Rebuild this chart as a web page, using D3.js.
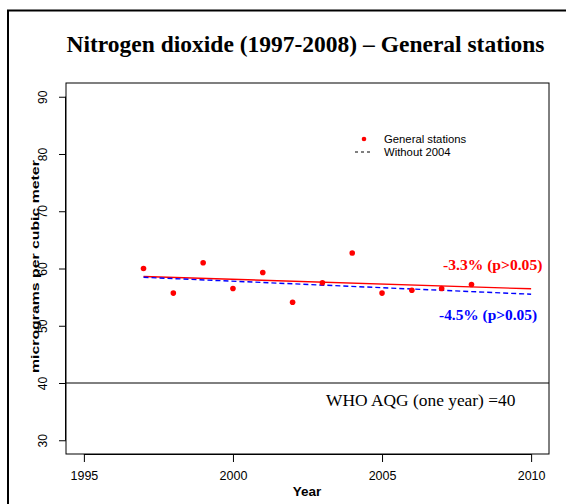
<!DOCTYPE html>
<html>
<head>
<meta charset="utf-8">
<script src="https://cdn.jsdelivr.net/npm/d3@7"></script>
<style>
  body { margin: 0; background: #fff; }
  svg { display: block; }
</style>
</head>
<body>
<div id="chart"></div>
<script>
"use strict";
// yearly means, NO2, general stations
const years = [1997, 1998, 1999, 2000, 2001, 2002, 2003, 2004, 2005, 2006, 2007, 2008];
const no2 = [60.0, 55.7, 61.0, 56.5, 59.3, 54.1, 57.5, 62.7, 55.7, 56.2, 56.5, 57.2];
const xTicks = [1995, 2000, 2005, 2010];
const yTicks = [30, 40, 50, 60, 70, 80, 90];
const whoLimit = 40;
const excludedYear = 2004;
const trendEnd = 2010;
const trendLabels = ['-3.3% (p>0.05)', '-4.5% (p>0.05)'];

const width = 566, height = 504;
const svg = d3.select('#chart').append('svg')
  .attr('width', width)
  .attr('height', height);

// outer frame (runs off the right/bottom edge)
svg.append('rect')
  .attr('x', 8).attr('y', 10.5)
  .attr('width', 620).attr('height', 620)
  .attr('fill', 'none').attr('stroke', '#000').attr('stroke-width', 2);

// R style: limits extended 4%
const x = d3.scaleLinear().domain([1994.4, 2010.6]).range([66, 549]);
const y = d3.scaleLinear().domain([27.6, 92.4]).range([454, 83]);

// least squares line
function fit(xs, ys) {
  const mx = d3.mean(xs), my = d3.mean(ys);
  let sxy = 0, sxx = 0;
  xs.forEach((v, i) => { sxy += (v - mx) * (ys[i] - my); sxx += (v - mx) * (v - mx); });
  const b = sxy / sxx;
  return t => my + b * (t - mx);
}

svg.append('text')
  .attr('x', 305.5).attr('y', 52)
  .attr('text-anchor', 'middle')
  .style('font-family', '"Liberation Serif", "Times New Roman", serif')
  .style('font-weight', 'bold')
  .style('font-size', '23.5px')
  .text('Nitrogen dioxide (1997-2008) \u2013 General stations');

// plot box
svg.append('rect')
  .attr('x', x.range()[0]).attr('y', y.range()[1])
  .attr('width', x.range()[1] - x.range()[0])
  .attr('height', y.range()[0] - y.range()[1])
  .attr('fill', 'none').attr('stroke', '#000').attr('stroke-width', 1);

// axes
const gx = svg.append('g')
  .attr('transform', `translate(0,${y.range()[0]})`)
  .call(d3.axisBottom(x).tickValues(xTicks).tickFormat(d3.format('d')).tickSize(8).tickPadding(9));
gx.select('.domain').attr('d', `M${x(xTicks[0])},0.5H${x(xTicks[xTicks.length - 1])}`);
gx.selectAll('text')
  .style('font-family', '"Liberation Sans", Arial, sans-serif')
  .style('font-size', '12.5px')
  .attr('fill', '#000');

const gy = svg.append('g')
  .attr('transform', `translate(${x.range()[0]},0)`)
  .call(d3.axisLeft(y).tickValues(yTicks).tickSize(7));
gy.select('.domain').attr('d', `M-0.5,${y(yTicks[0])}V${y(yTicks[yTicks.length - 1])}`);
gy.selectAll('text')
  .attr('transform', 'rotate(-90)')
  .attr('x', 0).attr('y', -19).attr('dy', 0)
  .attr('text-anchor', 'middle')
  .style('font-family', '"Liberation Sans", Arial, sans-serif')
  .style('font-size', '12px')
  .attr('fill', '#000');

svg.append('text')
  .attr('x', 307).attr('y', 496)
  .attr('text-anchor', 'middle')
  .style('font-family', '"Liberation Sans", Arial, sans-serif')
  .style('font-weight', 'bold')
  .style('font-size', '13.5px')
  .text('Year');

// y title: stretched along its length like the source image
const yTitle = svg.append('text')
  .attr('text-anchor', 'start')
  .style('font-family', '"Liberation Sans", Arial, sans-serif')
  .style('font-weight', 'bold')
  .style('font-size', '10.5px')
  .text('micrograms per cubic meter');
const titleLen = yTitle.node().getComputedTextLength();
const stretch = 213 / titleLen;
yTitle
  .attr('x', -titleLen / 2)
  .attr('transform', `translate(38.5,${(y.range()[0] + y.range()[1]) / 2 - 2}) rotate(-90) scale(${stretch},1)`);

// WHO guideline
svg.append('line')
  .attr('x1', x.range()[0]).attr('x2', x.range()[1])
  .attr('y1', y(whoLimit)).attr('y2', y(whoLimit))
  .attr('stroke', '#000').attr('stroke-width', 1);
svg.append('text')
  .attr('x', 326).attr('y', y(whoLimit) + 23)
  .style('font-family', '"Liberation Serif", "Times New Roman", serif')
  .style('font-size', '17.4px')
  .text(`WHO AQG (one year) =${whoLimit}`);

// trend lines
const allFit = fit(years, no2);
const keep = years.map((v, i) => i).filter(i => years[i] !== excludedYear);
const subFit = fit(keep.map(i => years[i]), keep.map(i => no2[i]));
const line = d3.line().x(d => x(d[0])).y(d => y(d[1]));

svg.append('path')
  .attr('d', line([[years[0], allFit(years[0])], [trendEnd, allFit(trendEnd)]]))
  .attr('stroke', '#ff0000').attr('stroke-width', 1.4).attr('fill', 'none');
svg.append('path')
  .attr('d', line([[years[0], subFit(years[0])], [trendEnd, subFit(trendEnd)]]))
  .attr('stroke', '#0000ff').attr('stroke-width', 1.4).attr('fill', 'none')
  .attr('stroke-dasharray', '5,3');

// points
svg.append('g').selectAll('circle')
  .data(years)
  .enter()
  .append('circle')
  .attr('cx', d => x(d))
  .attr('cy', (d, i) => y(no2[i]))
  .attr('r', 2.8)
  .attr('fill', '#ff0000');

// trend annotations
svg.append('text')
  .attr('x', 443).attr('y', 270)
  .attr('fill', '#ff0000')
  .style('font-family', '"Liberation Serif", "Times New Roman", serif')
  .style('font-weight', 'bold')
  .style('font-size', '15.6px')
  .text(trendLabels[0]);
svg.append('text')
  .attr('x', 439).attr('y', 320)
  .attr('fill', '#0000ff')
  .style('font-family', '"Liberation Serif", "Times New Roman", serif')
  .style('font-weight', 'bold')
  .style('font-size', '15.4px')
  .text(trendLabels[1]);

// legend
const leg = svg.append('g').attr('transform', 'translate(355,139)');
leg.append('circle').attr('cx', 9).attr('cy', 0).attr('r', 2.3).attr('fill', '#ff0000');
leg.append('line')
  .attr('x1', 0).attr('x2', 18).attr('y1', 13).attr('y2', 13)
  .attr('stroke', '#000').attr('stroke-width', 1).attr('stroke-dasharray', '3,3');
leg.selectAll('text.lg')
  .data(['General stations', 'Without 2004'])
  .enter()
  .append('text')
  .attr('class', 'lg')
  .attr('x', 29)
  .attr('y', (d, i) => i * 13 + 4)
  .style('font-family', '"Liberation Sans", Arial, sans-serif')
  .style('font-size', '11.3px')
  .text(d => d);
</script>
</body>
</html>
